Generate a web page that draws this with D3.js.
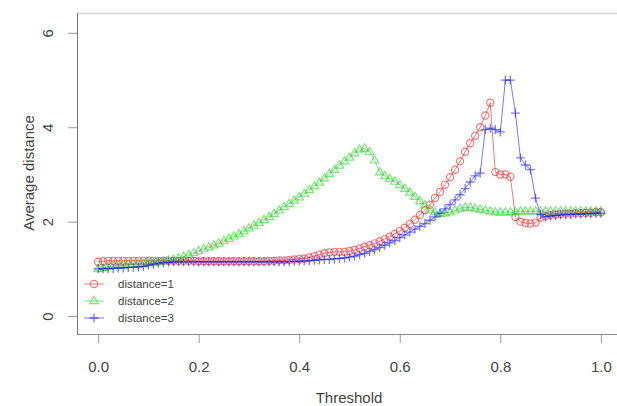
<!DOCTYPE html>
<html>
<head>
<meta charset="utf-8">
<script src="https://cdn.jsdelivr.net/npm/d3@7/dist/d3.min.js"></script>
<style>
html,body{margin:0;padding:0;background:#fff;}
svg{display:block;font-family:"Liberation Sans",Arial,sans-serif;}
</style>
</head>
<body>
<svg id="chart" width="617" height="406"></svg>
<script>
const thresholds = [0.00,0.01,0.02,0.03,0.04,0.05,0.06,0.07,0.08,0.09,
0.10,0.11,0.12,0.13,0.14,0.15,0.16,0.17,0.18,0.19,
0.20,0.21,0.22,0.23,0.24,0.25,0.26,0.27,0.28,0.29,
0.30,0.31,0.32,0.33,0.34,0.35,0.36,0.37,0.38,0.39,
0.40,0.41,0.42,0.43,0.44,0.45,0.46,0.47,0.48,0.49,
0.50,0.51,0.52,0.53,0.54,0.55,0.56,0.57,0.58,0.59,
0.60,0.61,0.62,0.63,0.64,0.65,0.66,0.67,0.68,0.69,
0.70,0.71,0.72,0.73,0.74,0.75,0.76,0.77,0.78,0.79,
0.80,0.81,0.82,0.83,0.84,0.85,0.86,0.87,0.88,0.89,
0.90,0.91,0.92,0.93,0.94,0.95,0.96,0.97,0.98,0.99,1.00];

const distance1 = [1.15,1.16,1.17,1.17,1.17,1.17,1.17,1.17,1.17,1.17,
1.17,1.17,1.17,1.17,1.17,1.17,1.17,1.17,1.17,1.17,
1.16,1.16,1.16,1.16,1.16,1.16,1.16,1.16,1.16,1.16,
1.16,1.16,1.16,1.16,1.17,1.17,1.18,1.18,1.19,1.20,
1.21,1.22,1.24,1.27,1.30,1.33,1.35,1.36,1.36,1.36,
1.38,1.40,1.43,1.47,1.50,1.54,1.58,1.63,1.68,1.74,
1.80,1.87,1.95,2.04,2.14,2.24,2.36,2.50,2.63,2.78,
2.94,3.10,3.28,3.48,3.66,3.82,4.00,4.25,4.52,3.05,
3.00,3.00,2.95,2.10,2.00,1.97,1.96,1.98,2.08,2.12,
2.14,2.15,2.16,2.17,2.17,2.18,2.18,2.19,2.19,2.20,2.20];

const distance2 = [1.00,1.02,1.04,1.06,1.07,1.08,1.09,1.10,1.10,1.11,
1.12,1.13,1.14,1.16,1.18,1.20,1.23,1.26,1.30,1.34,
1.38,1.42,1.46,1.50,1.54,1.59,1.64,1.69,1.74,1.80,
1.86,1.92,1.98,2.04,2.10,2.17,2.24,2.31,2.38,2.45,
2.52,2.59,2.67,2.75,2.83,2.92,3.01,3.10,3.19,3.28,
3.36,3.45,3.53,3.55,3.48,3.30,3.05,2.97,2.91,2.85,
2.78,2.70,2.62,2.53,2.44,2.35,2.26,2.20,2.17,2.18,
2.20,2.24,2.28,2.30,2.30,2.28,2.26,2.24,2.22,2.20,
2.20,2.20,2.20,2.21,2.22,2.22,2.22,2.22,2.22,2.22,
2.22,2.22,2.22,2.22,2.22,2.22,2.22,2.22,2.22,2.22,2.22];

const distance3 = [1.00,1.00,1.01,1.01,1.02,1.02,1.03,1.03,1.04,1.05,
1.08,1.10,1.12,1.13,1.14,1.15,1.15,1.15,1.15,1.15,
1.15,1.15,1.15,1.15,1.15,1.15,1.15,1.15,1.15,1.15,
1.15,1.15,1.15,1.15,1.15,1.15,1.15,1.15,1.15,1.16,
1.16,1.17,1.17,1.18,1.19,1.20,1.20,1.21,1.22,1.23,
1.25,1.27,1.30,1.33,1.37,1.41,1.45,1.50,1.55,1.60,
1.66,1.72,1.78,1.84,1.90,1.96,2.03,2.10,2.18,2.27,
2.36,2.46,2.57,2.70,2.84,2.97,3.03,3.95,3.98,3.95,
3.90,5.00,5.00,4.30,3.35,3.20,3.10,2.50,2.15,2.10,
2.12,2.13,2.14,2.15,2.15,2.16,2.16,2.17,2.17,2.18,2.18];

const xTicks = [0.0,0.2,0.4,0.6,0.8,1.0];
const yTicks = [0,2,4,6];
const seriesNames = ["distance=1","distance=2","distance=3"];
const seriesColors = ["rgba(240,30,30,0.6)","rgba(40,210,40,0.6)","rgba(30,30,240,0.6)"];
const seriesShapes = ["circle","triangle","plus"];
const xLabel = "Threshold";
const yLabel = "Average distance";

const svg = d3.select("#chart");
const x = d3.scaleLinear().domain([-0.04,1.04]).range([78,621]);
const y = d3.scaleLinear().domain([-0.38,6.42]).range([334,13]);

// frame
svg.append("line").attr("x1",78).attr("x2",621).attr("y1",13.5).attr("y2",13.5).attr("stroke","#d4d4d4").attr("stroke-width",1.5);
svg.append("line").attr("x1",78).attr("x2",621).attr("y1",334.5).attr("y2",334.5).attr("stroke","#888").attr("stroke-width",1);
svg.append("line").attr("x1",77.5).attr("x2",77.5).attr("y1",13).attr("y2",335).attr("stroke","#777").attr("stroke-width",1);

// axes
const xAxis = d3.axisBottom(x).tickValues(xTicks).tickFormat(d3.format(".1f")).tickSize(8).tickPadding(18);
const gx = svg.append("g").attr("transform","translate(0,335)").call(xAxis);
gx.select(".domain").remove();
gx.selectAll(".tick line").attr("stroke","#999");
gx.selectAll(".tick text").attr("font-size",15).attr("fill","#444").attr("font-family","Liberation Sans, Arial, sans-serif");

const yAxis = d3.axisLeft(y).tickValues(yTicks).tickFormat(d3.format("d")).tickSize(9);
const gy = svg.append("g").attr("transform","translate(77,0)").call(yAxis);
gy.select(".domain").remove();
gy.selectAll(".tick line").attr("stroke","#999");
gy.selectAll(".tick text")
  .attr("font-size",15).attr("fill","#444").attr("font-family","Liberation Sans, Arial, sans-serif")
  .attr("x",0).attr("dy",null).attr("text-anchor","middle").attr("dominant-baseline","central")
  .attr("transform","translate(-30,0) rotate(-90)");

svg.append("text").attr("x",349).attr("y",403).attr("text-anchor","middle")
  .attr("font-size",15).attr("fill","#444").text(xLabel);
svg.append("text").attr("transform","translate(28,173) rotate(-90)").attr("text-anchor","middle")
  .attr("dominant-baseline","central").attr("font-size",15).attr("fill","#444").text(yLabel);

function drawSymbol(g, shape, cx, cy, color){
  if(shape==="circle"){
    g.append("circle").attr("cx",cx).attr("cy",cy).attr("r",3.6).attr("fill","none").attr("stroke",color).attr("stroke-width",1.2);
  } else if(shape==="triangle"){
    const s=4.5;
    g.append("path").attr("d",`M${cx},${cy-s} L${cx+s*0.95},${cy+s*0.6} L${cx-s*0.95},${cy+s*0.6} Z`)
      .attr("fill","none").attr("stroke",color).attr("stroke-width",1.2);
  } else {
    const s=4.5;
    g.append("path").attr("d",`M${cx-s},${cy} H${cx+s} M${cx},${cy-s} V${cy+s}`)
      .attr("fill","none").attr("stroke",color).attr("stroke-width",1.3);
  }
}

const allSeries = [distance1,distance2,distance3];
const line = d3.line().x(d=>x(d[0])).y(d=>y(d[1]));
allSeries.forEach((vals,i)=>{
  const pts = thresholds.map((t,j)=>[t,vals[j]]);
  const g = svg.append("g");
  g.append("path").datum(pts).attr("d",line).attr("fill","none").attr("stroke",seriesColors[i]).attr("stroke-width",1);
  pts.forEach(p=>drawSymbol(g, seriesShapes[i], x(p[0]), y(p[1]), seriesColors[i]));
});

// legend
const lg = svg.append("g");
seriesNames.forEach((name,i)=>{
  const ly = 284 + i*17;
  lg.append("line").attr("x1",84).attr("x2",104).attr("y1",ly).attr("y2",ly).attr("stroke",seriesColors[i]).attr("stroke-width",1);
  drawSymbol(lg, seriesShapes[i], 94, ly, seriesColors[i]);
  lg.append("text").attr("x",118).attr("y",ly).attr("dominant-baseline","central")
    .attr("font-size",11.5).attr("fill","#444").text(name);
});
</script>
</body>
</html>
